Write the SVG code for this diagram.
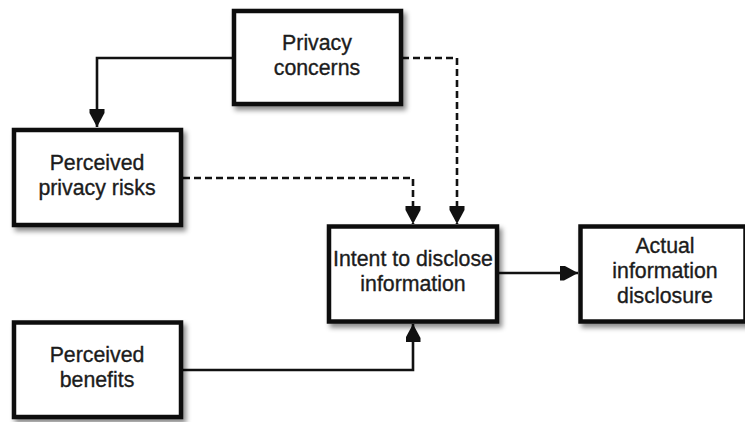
<svg xmlns="http://www.w3.org/2000/svg" width="745" height="422" viewBox="0 0 745 422">
  <style>
    .box { fill: #ffffff; stroke: #111111; stroke-width: 4.5; filter: url(#shadow); }
    .label { font-family: "Liberation Sans", Arial, Helvetica, sans-serif; font-size: 21.3px; fill: #1c1c1c; stroke: #1c1c1c; stroke-width: 0.35; text-anchor: middle; }
    .link { fill: none; stroke: #111111; stroke-width: 2.6; }
    .dashed { stroke-dasharray: 7 4; }
  </style>
  <defs>
    <filter id="shadow" x="-10%" y="-10%" width="125%" height="130%">
      <feDropShadow dx="3" dy="4" stdDeviation="2.5" flood-color="#000000" flood-opacity="0.45"/>
    </filter>
    <marker id="arrow" markerUnits="userSpaceOnUse" markerWidth="20" markerHeight="16" refX="18" refY="7.5" orient="auto">
      <path d="M0,0 L4,0 L18,7.5 L4,15 L0,15 Z" fill="#111111"/>
    </marker>
  </defs>

  <!-- connectors -->
  <g id="connectors">
    <path class="link" d="M234,58 H97 V127" marker-end="url(#arrow)"/>
    <path class="link dashed" d="M402,58 H457 V224" marker-end="url(#arrow)"/>
    <path class="link dashed" d="M183,178 H413 V224" marker-end="url(#arrow)"/>
    <path class="link" d="M183,370 H413 V324" marker-end="url(#arrow)"/>
    <path class="link" d="M499,273 H578" marker-end="url(#arrow)"/>
  </g>

  <!-- nodes -->
  <g id="privacy-concerns">
    <rect class="box" x="234" y="11" width="167" height="93"/>
    <text class="label" x="317" y="50">Privacy</text>
    <text class="label" x="317" y="75">concerns</text>
  </g>

  <g id="perceived-privacy-risks">
    <rect class="box" x="14" y="130" width="167" height="95"/>
    <text class="label" x="97" y="170">Perceived</text>
    <text class="label" x="97" y="195">privacy risks</text>
  </g>

  <g id="intent-to-disclose">
    <rect class="box" x="329" y="226.5" width="168" height="95"/>
    <text class="label" x="413" y="266">Intent to disclose</text>
    <text class="label" x="413" y="291">information</text>
  </g>

  <g id="actual-disclosure">
    <rect class="box" x="580.5" y="226.5" width="165" height="95"/>
    <text class="label" x="665" y="253">Actual</text>
    <text class="label" x="665" y="278">information</text>
    <text class="label" x="665" y="303">disclosure</text>
  </g>

  <g id="perceived-benefits">
    <rect class="box" x="14" y="322.5" width="167" height="94.5"/>
    <text class="label" x="97" y="362">Perceived</text>
    <text class="label" x="97" y="387">benefits</text>
  </g>
</svg>
